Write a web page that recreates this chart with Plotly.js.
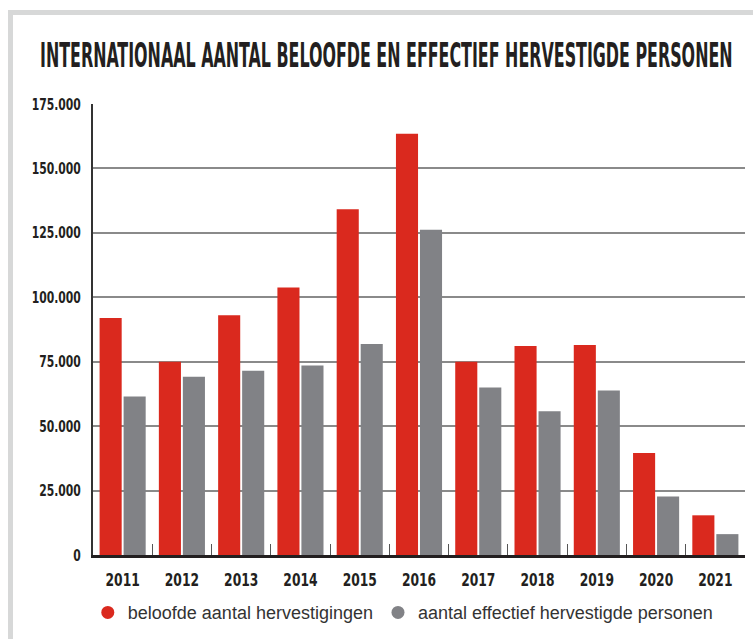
<!DOCTYPE html>
<html>
<head>
<meta charset="utf-8">
<script src="https://cdn.plot.ly/plotly-3.0.1.min.js"></script>
<style>
  body { margin: 0; background: #fff; }
  #wrap { position: relative; width: 753px; height: 639px; overflow: hidden; }
  #frame { position: absolute; left: 8px; top: 10px; right: -10px; bottom: -10px;
           border-left: 5px solid #d7d8d8; border-top: 5px solid #d7d8d8; pointer-events: none; }
</style>
</head>
<body>
<div id="wrap">
  <div id="chart" style="width:753px;height:639px;"></div>
  <div id="frame"></div>
</div>
<script>
// jaartallen
let years = ['2011', '2012', '2013', '2014', '2015', '2016', '2017', '2018', '2019', '2020', '2021'];

// beloofde aantal hervestigingen
let beloofd = [92000, 75000, 93000, 103800, 134200, 163500, 75000, 81100, 81500, 39600, 15400];

// aantal effectief hervestigde personen
let effectief = [61500, 69200, 71500, 73500, 81900, 126200, 65000, 55800, 63800, 22700, 8100];

let names = ['beloofde aantal hervestigingen', 'aantal effectief hervestigde personen'];
let red = '#da291e';
let grey = '#818286';

let condensed = '"DejaVu Sans Condensed", "Liberation Sans", sans-serif';

let traces = [
    {
        type: 'bar',
        x: years,
        y: beloofd,
        marker: { color: red },
        showlegend: false,
        hoverinfo: 'x+y'
    },
    {
        type: 'bar',
        x: years,
        y: effectief,
        marker: { color: grey },
        showlegend: false,
        hoverinfo: 'x+y'
    },
    // alleen voor de legende (ronde bolletjes)
    {
        type: 'scatter',
        mode: 'markers',
        x: [null],
        y: [null],
        name: names[0],
        marker: { color: red, size: 13, symbol: 'circle' }
    },
    {
        type: 'scatter',
        mode: 'markers',
        x: [null],
        y: [null],
        name: names[1],
        marker: { color: grey, size: 13, symbol: 'circle' }
    }
];

let layout = {
    width: 753,
    height: 639,
    margin: { l: 93, r: 8, t: 104, b: 80 },
    paper_bgcolor: '#fff',
    plot_bgcolor: '#fff',
    separators: ',.',
    barmode: 'group',
    bargap: 0.19,
    bargroupgap: 0.08,
    title: {
        text: '<b>INTERNATIONAAL AANTAL BELOOFDE EN EFFECTIEF HERVESTIGDE PERSONEN</b>',
        font: { family: condensed, size: 34, color: '#231f20' },
        x: 0.513,
        xanchor: 'center',
        y: 0.914,
        yanchor: 'middle'
    },
    xaxis: {
        type: 'category',
        showgrid: false,
        showline: true,
        linecolor: '#231f20',
        linewidth: 3,
        ticks: 'inside',
        tickson: 'boundaries',
        ticklen: 11,
        tickwidth: 1,
        tickcolor: '#555',
        ticklabelstandoff: 6,
        tickfont: { family: condensed, size: 18, color: '#231f20', weight: 'bold' },
        fixedrange: true
    },
    yaxis: {
        range: [0, 175000],
        dtick: 25000,
        tickformat: ',d',
        showgrid: true,
        gridcolor: '#8a8a8a',
        gridwidth: 2,
        showline: true,
        linecolor: '#333',
        linewidth: 2,
        zeroline: false,
        ticks: '',
        ticklabelstandoff: 7,
        tickfont: { family: condensed, size: 16, color: '#231f20', weight: 'bold' },
        fixedrange: true
    },
    showlegend: true,
    legend: {
        orientation: 'h',
        x: -0.008,
        xanchor: 'left',
        y: -0.128,
        yanchor: 'middle',
        font: { family: '"Liberation Sans", Arial, sans-serif', size: 18, color: '#333' },
        bgcolor: 'rgba(0,0,0,0)'
    }
};

// smalle letters zoals in het origineel: tekst horizontaal samendrukken
function squeeze(el, sx, anchor) {
    let bb = el.getBBox();
    let cx = anchor === 'end' ? bb.x + bb.width : bb.x + bb.width / 2;
    let cy = bb.y + bb.height / 2;
    let old = el.getAttribute('transform') || '';
    el.setAttribute('transform', old + ' translate(' + cx + ',' + cy + ') scale(' + sx + ',1) translate(' + (-cx) + ',' + (-cy) + ')');
}

Plotly.newPlot('chart', traces, layout, { displayModeBar: false, staticPlot: true }).then(function (gd) {
    let title = gd.querySelector('.gtitle');
    if (title) {
        squeeze(title, 693 / title.getBBox().width, 'middle');
    }
    gd.querySelectorAll('.xtick text').forEach(function (t) { squeeze(t, 0.76, 'middle'); });
    gd.querySelectorAll('.ytick text').forEach(function (t) { squeeze(t, 0.75, 'end'); });
});
</script>
</body>
</html>
